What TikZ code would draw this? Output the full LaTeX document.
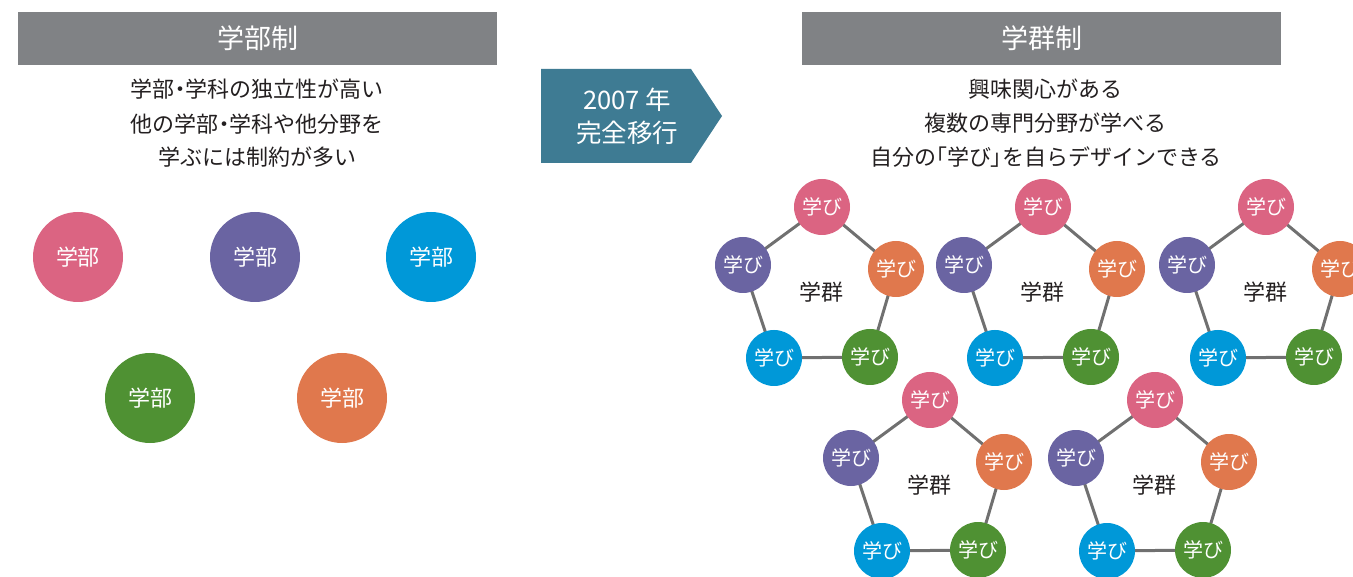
\documentclass[tikz,border=0pt]{standalone}
\usepackage{fontspec}
\setmainfont{Noto Sans CJK JP}
\newfontfamily\paltfont[RawFeature=+palt]{Noto Sans CJK JP}
\newcommand\pp[1]{{\paltfont #1}}
\usetikzlibrary{backgrounds}
\definecolor{barGray}{HTML}{808285}
\definecolor{arrowBlue}{HTML}{3E7B93}
\definecolor{cpink}{HTML}{DB6482}
\definecolor{cpurple}{HTML}{6A64A2}
\definecolor{cblue}{HTML}{0098D8}
\definecolor{cgreen}{HTML}{4F9133}
\definecolor{corange}{HTML}{E0784D}
\definecolor{linkGray}{HTML}{707070}
\definecolor{txt}{HTML}{231F20}
\newcommand\gakugun[3]{%
\begin{scope}[shift={(#2,#3)}]
\node[manabi,fill=cpink] (#1a) at (0,0) {学び};
\node[manabi,fill=cpurple] (#1b) at (-79,58) {学び};
\node[manabi,fill=corange] (#1c) at (74,62) {学び};
\node[manabi,fill=cblue] (#1d) at (-48,151) {学び};
\node[manabi,fill=cgreen] (#1e) at (48,150) {学び};
\node[gun] (#1f) at (-1,85) {学群};
\begin{scope}[on background layer]
\draw[link] (#1a.center) -- (#1b.center) -- (#1d.center) -- (#1e.center) -- (#1c.center) -- cycle;
\end{scope}
\end{scope}}
\begin{document}
\begin{tikzpicture}[x=1pt,y=-1pt,
  bar/.style={fill=barGray, minimum width=479pt, minimum height=53pt, inner sep=0pt, text=white, font=\fontsize{27}{27}\selectfont},
  desc/.style={text=txt, inner sep=0pt, font=\fontsize{22}{24}\selectfont},
  gakubu/.style={circle, minimum size=90pt, inner sep=0pt, text=white, font=\fontsize{22}{22}\selectfont},
  manabi/.style={circle, minimum size=56pt, inner sep=0pt, text=white, font=\fontsize{20}{20}\selectfont},
  gun/.style={inner sep=0pt, text=txt, font=\fontsize{22}{22}\selectfont},
  link/.style={draw=linkGray, line width=3pt},
  arrowtext/.style={text=white, align=center, inner sep=0pt, font=\fontsize{25.5}{33}\selectfont}]
\useasboundingbox (0,0) rectangle (1353,577);
\clip (0,0) rectangle (1353,577);
% left side
\node[bar] (hl) at (257.5,38.5) {学部制};
\node[desc] (l1) at (257,89) {学部\pp{・}学科の独立性が高い};
\node[desc] (l2) at (257,124) {他の学部\pp{・}学科や他分野を};
\node[desc] (l3) at (257,157) {学ぶには制約が多い};
\node[gakubu,fill=cpink] (g1) at (78,257) {学部};
\node[gakubu,fill=cpurple] (g2) at (255,257) {学部};
\node[gakubu,fill=cblue] (g3) at (431,257) {学部};
\node[gakubu,fill=cgreen] (g4) at (150,398) {学部};
\node[gakubu,fill=corange] (g5) at (342,398) {学部};
% arrow
\fill[arrowBlue] (541,69) -- (691,69) -- (722,116) -- (691,163) -- (541,163) -- cycle;
\node[arrowtext] (yr) at (627,116) {2007 年\\完全移行};
% right side
\node[bar] (hr) at (1041.5,38.5) {学群制};
\node[desc] (r1) at (1045,89) {興味関心がある};
\node[desc] (r2) at (1045,123) {複数の専門分野が学べる};
\node[desc] (r3) at (1046,157) {自分の\pp{「}学び\pp{」}を自らデザインできる};
\gakugun{A}{822}{207}
\gakugun{B}{1043}{207}
\gakugun{C}{1266}{207}
\gakugun{D}{930}{400}
\gakugun{E}{1155}{400}
\end{tikzpicture}
\end{document}
